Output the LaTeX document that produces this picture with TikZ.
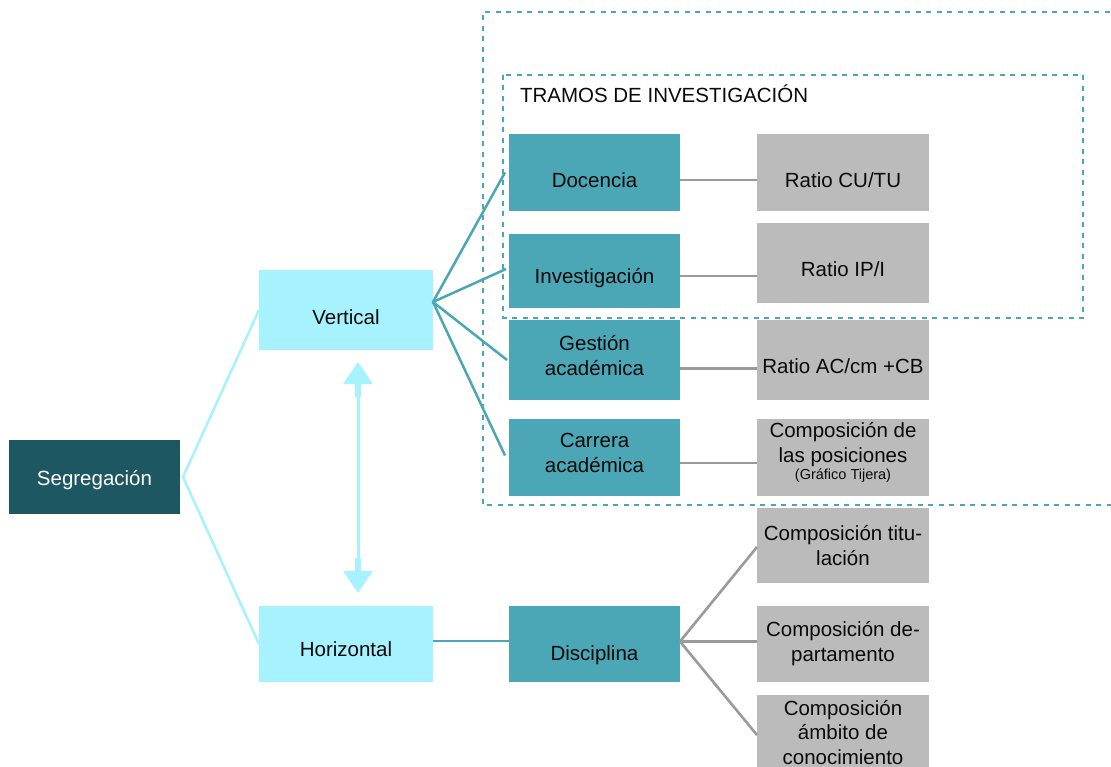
\documentclass[tikz,border=0pt]{standalone}
\usepackage{fontspec}
\setmainfont{Liberation Sans}
\usetikzlibrary{arrows.meta}
\definecolor{segc}{HTML}{1D5862}
\definecolor{lcyan}{HTML}{A6F2FF}
\definecolor{tealc}{HTML}{4BA6B5}
\definecolor{grayb}{HTML}{BBBBBB}
\definecolor{grayl}{HTML}{9A9A9A}
\definecolor{txt}{HTML}{0A0A0A}
\newcommand{\boxat}[6]{\node[#2, anchor=north west, minimum width=#5pt-#3pt, minimum height=#6pt-#4pt] (#1) at (#3,#4) {};}
\begin{document}
\begin{tikzpicture}[x=1pt,y=-1pt,
  bx/.style={draw=none, inner sep=0pt, outer sep=0pt},
  segbox/.style={bx, fill=segc},
  lbox/.style={bx, fill=lcyan},
  tbox/.style={bx, fill=tealc},
  gbox/.style={bx, fill=grayb},
  lbl/.style={inner sep=0pt, outer sep=0pt, align=center, text=txt, font=\fontsize{20.5}{24.6}\selectfont},
  lconn/.style={draw=lcyan, line width=2.5pt},
  tconn/.style={draw=tealc, line width=2.5pt},
  gconn/.style={draw=grayl, line width=2.6pt},
  dbox/.style={draw=tealc, line width=2.4pt, dash pattern=on 5pt off 5.5pt},
  dblarrow/.style={draw=lcyan, line width=3pt, {Triangle[width=29pt,length=22pt]}-{Triangle[width=29pt,length=22pt]}}
]
\useasboundingbox (0,0) rectangle (1111,767);
\fill[white] (0,0) rectangle (1111,767);

% dashed frames
\draw[dbox] (1120,12) -- (483,12) -- (483,505) -- (1120,505);
\draw[dbox] (503,75) rectangle (1083,318);

% boxes
\boxat{seg}{segbox}{9}{440}{180}{514}
\boxat{vert}{lbox}{259}{270}{433}{350}
\boxat{horiz}{lbox}{259}{606}{433}{682}
\boxat{doc}{tbox}{509}{134}{680}{211}
\boxat{inv}{tbox}{509}{234}{680}{308}
\boxat{ges}{tbox}{509}{320}{680}{400}
\boxat{car}{tbox}{509}{419}{680}{496}
\boxat{dis}{tbox}{509}{606}{680}{682}
\boxat{cutu}{gbox}{757}{134}{929}{211}
\boxat{ipi}{gbox}{757}{223}{929}{303}
\boxat{accm}{gbox}{757}{320}{929}{400}
\boxat{cpos}{gbox}{757}{419}{929}{496}
\boxat{ctit}{gbox}{757}{508}{929}{583}
\boxat{cdep}{gbox}{757}{606}{929}{682}
\boxat{camb}{gbox}{757}{695}{929}{767}

% texts
\node[lbl, anchor=base west] (tram) at (520,103) {TRAMOS DE INVESTIGACIÓN};
\node[lbl, anchor=base, text=white] (segT) at (seg.center |- 0,485) {Segregación};
\node[lbl, anchor=base] (vertT) at (vert.center |- 0,325) {Vertical};
\node[lbl, anchor=base] (horT) at (horiz.center |- 0,656) {Horizontal};
\node[lbl, anchor=base] (docT) at (doc.center |- 0,188) {Docencia};
\node[lbl, anchor=base] (invT) at (inv.center |- 0,284) {Investigación};
\node[lbl, anchor=north] (gesT) at (ges.center |- 0,335.5) {Gestión\\académica};
\node[lbl, anchor=north] (carT) at (car.center |- 0,433.5) {Carrera\\académica};
\node[lbl, anchor=base] (disT) at (dis.center |- 0,660) {Disciplina};
\node[lbl, anchor=base] (cutuT) at (cutu.center |- 0,188) {Ratio CU/TU};
\node[lbl, anchor=base] (ipiT) at (ipi.center |- 0,277) {Ratio IP/I};
\node[lbl, anchor=base] (accmT) at (accm.center |- 0,373) {Ratio AC/cm +CB};
\node[lbl, anchor=north] (cposT) at (cpos.center |- 0,422.5) {Composición de\\las posiciones\\[-7pt]{\fontsize{14.5}{16}\selectfont (Gráfico Tijera)}};
\node[lbl, anchor=north] (ctitT) at (ctit.center |- 0,525.5) {Composición titu-\\lación};
\node[lbl, anchor=north] (cdepT) at (cdep.center |- 0,621.5) {Composición de-\\partamento};
\node[lbl, anchor=north] (cambT) at (camb.center |- 0,700) {Composición\\ámbito de\\conocimiento};

% connectors: Segregacion
\coordinate (so) at ([xshift=3pt]seg.east);
\draw[lconn] (vert.west) -- (so) -- (horiz.west);

% Vertical fan
\coordinate (vo) at ([yshift=8pt]vert.east);
\draw[tconn] (vo) -- ([xshift=-4pt]doc.west);
\draw[tconn] (vo) -- ([xshift=-3pt,yshift=2pt]inv.west);
\draw[tconn] (vo) -- ([xshift=-2pt]ges.west);
\draw[tconn] (vo) -- ([xshift=-4pt,yshift=2pt]car.west);

% Horizontal to Disciplina
\draw[tconn] ([yshift=3pt]horiz.east) -- ([yshift=3pt]dis.west);

% gray horizontal links
\draw[gconn] ([yshift=-7.5pt]doc.east) -- ([yshift=-7.5pt]doc.east -| cutu.west);
\draw[gconn] ([yshift=-5pt]inv.east) -- ([yshift=-5pt]inv.east -| ipi.west);
\draw[gconn] ([yshift=-8.5pt]ges.east) -- ([yshift=-8.5pt]ges.east -| accm.west);
\draw[gconn] ([yshift=-5.5pt]car.east) -- ([yshift=-5.5pt]car.east -| cpos.west);

% Disciplina fan
\coordinate (dn) at ([yshift=2.5pt]dis.east);
\draw[gconn] (dn) -- ([yshift=-1.5pt]ctit.west);
\draw[gconn] (dn) -- ([yshift=2.5pt]cdep.west);
\draw[gconn] (dn) -- ([yshift=-4pt]camb.west);

% double arrow Vertical <-> Horizontal
\coordinate (at1) at ([xshift=12pt,yshift=-12pt]vert.south);
\coordinate (at2) at ([xshift=12pt,yshift=13pt]horiz.north);
\draw[dblarrow] (at1) -- (at2);
\draw[draw=lcyan, line width=6pt] ([yshift=-21pt]at1) -- ([yshift=-35pt]at1);
\draw[draw=lcyan, line width=6pt] ([yshift=21pt]at2) -- ([yshift=35pt]at2);
\end{tikzpicture}
\end{document}
